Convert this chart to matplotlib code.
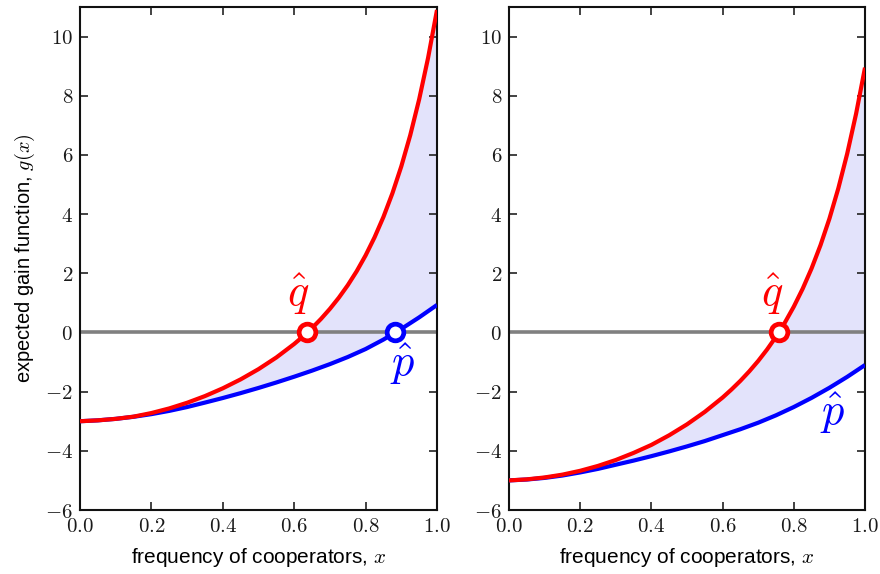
import matplotlib
matplotlib.use("Agg")
import matplotlib.pyplot as plt
from matplotlib.ticker import FuncFormatter

plt.rcParams['mathtext.fontset'] = 'cm'
plt.rcParams['font.family'] = ['Liberation Sans', 'DejaVu Sans']

# ---- data ----
x_red = [0.0, 0.05, 0.1, 0.15, 0.2, 0.25, 0.3, 0.35, 0.4, 0.45, 0.5, 0.55, 0.6,
         0.625, 0.65, 0.675, 0.7, 0.725, 0.75, 0.775, 0.8, 0.825, 0.85, 0.875,
         0.9, 0.925, 0.95, 0.975, 1.0]
red_left = [-3.0, -2.97, -2.92, -2.845, -2.723, -2.567, -2.376, -2.150, -1.887, -1.585,
            -1.240, -0.845, -0.388, -0.131, 0.150, 0.458, 0.798, 1.175, 1.596, 2.069,
            2.605, 3.213, 3.906, 4.701, 5.614, 6.665, 7.878, 9.280, 10.90]
red_right = [-5.0, -4.965, -4.90, -4.805, -4.675, -4.51, -4.31, -4.07, -3.80, -3.474,
             -3.105, -2.683, -2.199, -1.927, -1.634, -1.313, -0.962, -0.574, -0.145, 0.335,
             0.873, 1.480, 2.167, 2.950, 3.844, 4.868, 6.043, 7.394, 8.95]

x_blue = [0.0, 0.05, 0.1, 0.15, 0.2, 0.25, 0.3, 0.35, 0.4, 0.45, 0.5, 0.55, 0.6,
          0.65, 0.7, 0.75, 0.8, 0.85, 0.9, 0.95, 1.0]
blue_left = [-3.0, -2.97, -2.92, -2.85, -2.76, -2.65, -2.52, -2.37, -2.215, -2.05,
             -1.875, -1.69, -1.495, -1.29, -1.07, -0.83, -0.56, -0.24, 0.12, 0.51, 0.93]
blue_right = [-5.0, -4.97, -4.915, -4.835, -4.73, -4.61, -4.47, -4.33, -4.18, -4.02,
              -3.85, -3.67, -3.47, -3.27, -3.05, -2.80, -2.52, -2.21, -1.87, -1.50, -1.10]

q_hat = [0.637, 0.758]   # red zero crossings
p_hat = [0.883, None]    # blue zero crossing (left only)

xticks = [0.0, 0.2, 0.4, 0.6, 0.8, 1.0]
yticks = [-6, -4, -2, 0, 2, 4, 6, 8, 10]

RED = '#ff0000'
BLUE = '#0000ff'
FILL = '#e3e3fb'
GRAY = '#808080'

fig = plt.figure(figsize=(8.8, 5.74), dpi=100)
ax1 = fig.add_axes([80/880, 64/574, 357/880, 503/574])
ax2 = fig.add_axes([509/880, 64/574, 356/880, 503/574])

panels = [
    (ax1, red_left, blue_left, q_hat[0], p_hat[0], (0.612, 1.3), (0.905, -1.06)),
    (ax2, red_right, blue_right, q_hat[1], p_hat[1], (0.738, 1.3), (0.908, -2.72)),
]

for ax, yr, yb, qh, ph, qpos, ppos in panels:
    xs = list(x_red) + list(x_blue)[::-1]
    ys = list(yr) + list(yb)[::-1]
    ax.fill(xs, ys, color=FILL, lw=0, zorder=1)
    ax.axhline(0, color=GRAY, lw=2.6, zorder=2)
    ax.plot(x_blue, yb, color=BLUE, lw=3.0, zorder=3, solid_capstyle='butt')
    ax.plot(x_red, yr, color=RED, lw=3.0, zorder=4, solid_capstyle='butt')
    ax.plot([qh], [0], 'o', ms=12, mfc='white', mec=RED, mew=3.4, zorder=5, clip_on=False)
    if ph is not None:
        ax.plot([ph], [0], 'o', ms=12, mfc='white', mec=BLUE, mew=3.4, zorder=5, clip_on=False)
    ax.text(qpos[0], qpos[1], r'$\hat{q}$', color=RED, fontsize=32, ha='center', va='center', zorder=6)
    ax.text(ppos[0], ppos[1], r'$\hat{p}$', color=BLUE, fontsize=32, ha='center', va='center', zorder=6)

    ax.set_xlim(0, 1)
    ax.set_ylim(-6, 11)
    ax.set_xticks(xticks)
    ax.set_yticks(yticks)
    ax.xaxis.set_major_formatter(FuncFormatter(lambda v, p: r'$%.1f$' % v))
    ax.yaxis.set_major_formatter(FuncFormatter(lambda v, p: r'$%d$' % v if v >= 0 else r'$-%d$' % (-v)))
    ax.tick_params(direction='in', length=6, width=1.2, top=True, right=True,
                   labelsize=15, pad=5, color='#222222', labelcolor='#1a1a1a')
    for s in ax.spines.values():
        s.set_linewidth(1.5)
        s.set_color('#111111')
    ax.set_xlabel(r'frequency of cooperators, $x$', fontsize=15, labelpad=7)

ax1.set_ylabel(r'expected gain function, $g(x)$', fontsize=14.5, labelpad=6)

fig.savefig('out.png', dpi=100)
